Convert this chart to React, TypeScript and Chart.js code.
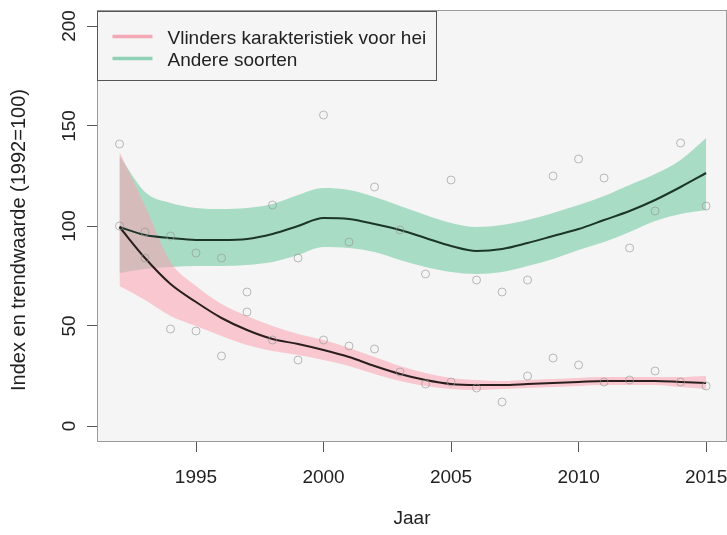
import React, { useEffect, useRef } from 'react';
import { Chart, registerables } from 'chart.js';

Chart.register(...registerables);

// ---- data ----
const years = [1992, 1993, 1994, 1995, 1996, 1997, 1998, 1999, 2000, 2001, 2002, 2003, 2004, 2005, 2006, 2007, 2008, 2009, 2010, 2011, 2012, 2013, 2014, 2015];

const heiTrend = [99.5, 84, 71, 62, 54, 48, 43.5, 41, 38, 34.5, 30, 26, 23, 21, 20.5, 20.5, 21, 21.5, 22, 22.5, 22.5, 22.5, 22, 21.5];
const heiUpper = [137, 110, 82, 70, 61, 55, 50, 46, 43, 39, 34.5, 30, 26.5, 24, 23, 22.5, 23, 23.5, 24, 24.5, 24.5, 24.5, 24.5, 25];
const heiLower = [70, 63, 55, 50, 45, 40.5, 37.5, 35.5, 33, 30, 26, 22.5, 20, 18.5, 18, 18.5, 19, 19.5, 20, 20.5, 20.5, 20.5, 19.5, 18.5];
const heiIndex = [141, 84, 48.5, 47.5, 35, 57, 43, 33, 43, 40, 38.5, 27, 21, 22, 19, 12, 25, 34, 30.5, 22, 23, 27.5, 22, 20];

const otherTrend = [99.5, 95.5, 94, 93, 93, 93.5, 96, 100, 104, 103.5, 101, 98, 94, 90, 87.5, 88.5, 91.5, 95, 98.5, 103, 107.5, 113, 119.5, 126.5];
const otherUpper = [135, 117, 111.5, 109, 108.5, 109, 111, 115.5, 119, 118, 114.5, 110, 105.5, 101.5, 99.5, 100.5, 103, 106.5, 110.5, 115, 120.5, 126, 133, 144];
const otherLower = [76.5, 78.5, 79.5, 80, 80, 80.5, 82, 85.5, 89.5, 89, 87, 83, 79.5, 77, 76, 77, 80, 83.5, 88, 92, 97, 102.5, 106, 108];
const otherIndex = [100, 97, 95, 86.5, 84, 67, 110.5, 84, 155.5, 92, 119.5, 98, 76, 123, 73, 67, 73, 125, 133.5, 124, 89, 107.5, 141.5, 110];

const xTicks = [1995, 2000, 2005, 2010, 2015];
const yTicks = [0, 50, 100, 150, 200];

const seriesNames = ['Vlinders karakteristiek voor hei', 'Andere soorten'];
const xTitle = 'Jaar';
const yTitle = 'Index en trendwaarde (1992=100)';

const FONT = '"Liberation Sans", Arial, sans-serif';
const PLOT_BG = '#f5f5f5';
const PINK_FILL = 'rgba(250,160,175,0.55)';
const GREEN_FILL = 'rgba(93,195,149,0.5)';
const PINK_KEY = '#f4a7b4';
const GREEN_KEY = '#8fd1b5';
const TEXT = '#222';

const pts = (arr: number[]) => years.map((x, i) => ({ x, y: arr[i] }));

const bgPlugin = {
  id: 'plotBg',
  beforeDraw(chart: any) {
    const { ctx, chartArea: a, width, height } = chart;
    ctx.save();
    ctx.fillStyle = '#ffffff';
    ctx.fillRect(0, 0, width, height);
    ctx.fillStyle = PLOT_BG;
    ctx.fillRect(a.left, a.top, a.right - a.left, a.bottom - a.top);
    ctx.restore();
  },
  afterDraw(chart: any) {
    const { ctx, chartArea: a } = chart;
    ctx.save();
    ctx.strokeStyle = '#9a9a9a';
    ctx.lineWidth = 1;
    ctx.strokeRect(a.left + 0.5, a.top + 0.5, a.right - a.left - 1, a.bottom - a.top - 1);

    // y-axis title (R centres it a little lower than the plot middle)
    const ys = chart.scales.y;
    ctx.save();
    ctx.translate(19, (ys.getPixelForValue(100) + ys.getPixelForValue(90)) / 2 + 4);
    ctx.rotate(-Math.PI / 2);
    ctx.font = `20px ${FONT}`;
    ctx.fillStyle = TEXT;
    ctx.textAlign = 'center';
    ctx.textBaseline = 'middle';
    ctx.fillText(yTitle, 0, 0);
    ctx.restore();

    // legend box (R style, top-left)
    const x0 = a.left + 0.5;
    const y0 = a.top + 1.5;
    const w = 339;
    const h = 69;
    ctx.fillStyle = PLOT_BG;
    ctx.fillRect(x0, y0, w, h);
    ctx.strokeStyle = '#555';
    ctx.strokeRect(x0, y0, w, h);
    const keys = [PINK_KEY, GREEN_KEY];
    ctx.font = `19px ${FONT}`;
    ctx.textBaseline = 'middle';
    ctx.textAlign = 'left';
    seriesNames.forEach((name, i) => {
      const yy = y0 + 26 + i * 22;
      ctx.strokeStyle = keys[i];
      ctx.lineWidth = 3.5;
      ctx.beginPath();
      ctx.moveTo(x0 + 15, yy - 1);
      ctx.lineTo(x0 + 55, yy - 1);
      ctx.stroke();
      ctx.fillStyle = TEXT;
      ctx.fillText(name, x0 + 70, yy + 1);
    });
    ctx.restore();
  },
};

export default function App() {
  const ref = useRef<HTMLCanvasElement | null>(null);

  useEffect(() => {
    if (!ref.current) return;
    const pointStyle = {
      showLine: false,
      pointRadius: 4,
      pointBorderWidth: 1,
      pointBorderColor: 'rgba(150,150,150,0.65)',
      pointBackgroundColor: 'rgba(0,0,0,0)',
    };
    const band = {
      borderWidth: 0,
      borderColor: 'rgba(0,0,0,0)',
      pointRadius: 0,
      cubicInterpolationMode: 'monotone',
    };
    const chart = new Chart(ref.current, {
      type: 'line',
      data: {
        datasets: [
          { label: seriesNames[0] + ' index', data: pts(heiIndex), ...pointStyle },
          { label: seriesNames[1] + ' index', data: pts(otherIndex), ...pointStyle },
          {
            label: seriesNames[0],
            data: pts(heiTrend),
            borderColor: '#2a1e1e',
            borderWidth: 2,
            pointRadius: 0,
            fill: false,
            cubicInterpolationMode: 'monotone',
          },
          {
            label: seriesNames[1],
            data: pts(otherTrend),
            borderColor: '#1c3529',
            borderWidth: 2,
            pointRadius: 0,
            fill: false,
            cubicInterpolationMode: 'monotone',
          },
          { label: 'hei upper', data: pts(heiUpper), backgroundColor: PINK_FILL, fill: '+1', ...band },
          { label: 'hei lower', data: pts(heiLower), fill: false, ...band },
          { label: 'other upper', data: pts(otherUpper), backgroundColor: GREEN_FILL, fill: '+1', ...band },
          { label: 'other lower', data: pts(otherLower), fill: false, ...band },
        ],
      },
      options: {
        animation: false,
        responsive: false,
        layout: { autoPadding: false, padding: { top: 10, right: 0, bottom: 0, left: 0 } },
        plugins: { legend: { display: false }, tooltip: { enabled: false } },
        scales: {
          x: {
            type: 'linear',
            min: 1991.118,
            max: 2015.82,
            afterBuildTicks: (s: any) => {
              s.ticks = xTicks.map((v) => ({ value: v }));
            },
            afterFit: (s: any) => {
              s.height = 93;
              s.paddingLeft = 0;
              s.paddingRight = 0;
            },
            grid: { drawOnChartArea: false, drawTicks: true, tickLength: 10, color: '#555' },
            border: { display: false },
            ticks: {
              font: { family: FONT, size: 19 },
              color: TEXT,
              padding: 14,
              maxRotation: 0,
              autoSkip: false,
              callback: (v: any) => String(v),
            },
            title: {
              display: true,
              text: xTitle,
              font: { family: FONT, size: 19 },
              color: TEXT,
              padding: { top: 0, bottom: 5 },
            },
          },
          y: {
            type: 'linear',
            min: -8,
            max: 208,
            afterBuildTicks: (s: any) => {
              s.ticks = yTicks.map((v) => ({ value: v }));
            },
            afterFit: (s: any) => {
              s.width = 97;
              s.paddingTop = 0;
              s.paddingBottom = 0;
            },
            grid: { drawOnChartArea: false, drawTicks: true, tickLength: 10, color: '#555' },
            border: { display: false },
            ticks: {
              font: { family: FONT, size: 19 },
              color: TEXT,
              padding: 1,
              minRotation: 90,
              maxRotation: 90,
              crossAlign: 'center',
              autoSkip: false,
              callback: (v: any) => String(v),
            },
            title: { display: false, text: yTitle },
          },
        },
      },
      plugins: [bgPlugin],
    } as any);
    return () => chart.destroy();
  }, []);

  return (
    <div style={{ position: 'absolute', left: 0, top: 0, width: 727, height: 535, background: '#fff' }}>
      <canvas ref={ref} width={727} height={535} />
    </div>
  );
}
